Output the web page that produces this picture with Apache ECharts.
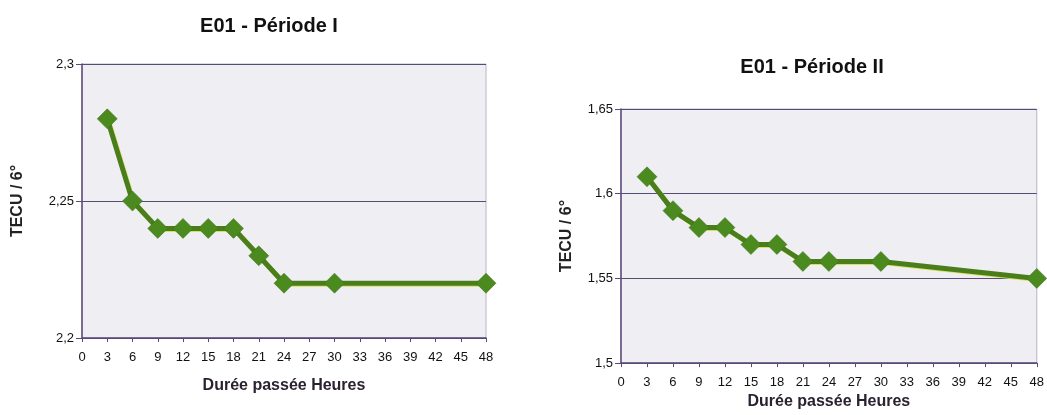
<!DOCTYPE html>
<html><head><meta charset="utf-8">
<script src="https://cdn.jsdelivr.net/npm/echarts@6/dist/echarts.min.js"></script>
<style>html,body{margin:0;padding:0;background:#fff}#c{width:1047px;height:415px}</style>
</head><body><div id="c"></div>
<script>
const hours1 = [3, 6, 9, 12, 15, 18, 21, 24, 30, 48];
const tecu1 = [2.28, 2.25, 2.24, 2.24, 2.24, 2.24, 2.23, 2.22, 2.22, 2.22];
const hours2 = [3, 6, 9, 12, 15, 18, 21, 24, 30, 48];
const tecu2 = [1.61, 1.59, 1.58, 1.58, 1.57, 1.57, 1.56, 1.56, 1.56, 1.55];
const title1 = 'E01 - Période I';
const title2 = 'E01 - Période II';
const yName = 'TECU / 6°';
const xName = 'Durée passée Heures';

const FONT = 'Liberation Sans, Arial, sans-serif';
const chart = echarts.init(document.getElementById('c'));
const fmt = v => String(v).replace('.', ',');
function xAxis(gi, nameGap, labelMargin) {
  return {
    type: 'value', gridIndex: gi, min: 0, max: 48, interval: 3,
    name: xName, nameLocation: 'middle', nameGap: nameGap,
    nameTextStyle: { fontFamily: FONT, fontWeight: 'bold', fontSize: 16, color: '#2a2230' },
    axisLine: { show: true, lineStyle: { color: '#5a4a78', width: 1.5 } },
    axisTick: { show: true, length: 4, inside: false, lineStyle: { color: '#5a4a78' } },
    axisLabel: { fontFamily: FONT, fontSize: 13, color: '#111', margin: labelMargin },
    splitLine: { show: false }
  };
}
function yAxis(gi, min, max, interval, nameGap) {
  return {
    type: 'value', gridIndex: gi, min: min, max: max, interval: interval,
    name: yName, nameLocation: 'middle', nameGap: nameGap, nameRotate: 90,
    nameTextStyle: { fontFamily: FONT, fontWeight: 'bold', fontSize: 16, color: '#222' },
    axisLine: { show: true, lineStyle: { color: '#5a4a78', width: 1.5 } },
    axisTick: { show: true, length: 6, lineStyle: { color: '#5a4a78' } },
    axisLabel: { fontFamily: FONT, fontSize: 13, color: '#111', margin: 8, formatter: fmt },
    splitLine: { show: true, lineStyle: { color: '#5a4a78', width: 1.2 } }
  };
}
function series(xi, xs, ys) {
  return {
    type: 'line', xAxisIndex: xi, yAxisIndex: xi,
    data: xs.map((x, i) => [x, ys[i]]),
    symbol: 'diamond', symbolSize: 20,
    itemStyle: { color: '#4b8a1e', borderColor: '#3d6e14', borderWidth: 0.5 },
    lineStyle: { color: '#4a7d1c', width: 5, shadowColor: '#d8e060', shadowBlur: 0, shadowOffsetX: 1, shadowOffsetY: 1 },
    z: 5, animation: false
  };
}
chart.setOption({
  animation: false,
  title: [
    { text: title1, left: 264, top: 11, textAlign: 'center', textStyle: { fontFamily: FONT, fontWeight: 'bold', fontSize: 20, color: '#111' } },
    { text: title2, left: 807, top: 52, textAlign: 'center', textStyle: { fontFamily: FONT, fontWeight: 'bold', fontSize: 20, color: '#111' } }
  ],
  grid: [
    { left: 82, top: 64, width: 404, height: 274, show: true, backgroundColor: '#efeff3', borderColor: '#b8b2cc', borderWidth: 1 },
    { left: 621, top: 109, width: 418, height: 258, show: true, backgroundColor: '#efeff3', borderColor: '#b8b2cc', borderWidth: 1 }
  ],
  xAxis: [xAxis(0, 40, 13), xAxis(1, 22, 13)],
  yAxis: [yAxis(0, 2.2, 2.3, 0.05, 56), yAxis(1, 1.5, 1.65, 0.05, 46)],
  series: [series(0, hours1, tecu1), series(1, hours2, tecu2)]
});
</script></body></html>
